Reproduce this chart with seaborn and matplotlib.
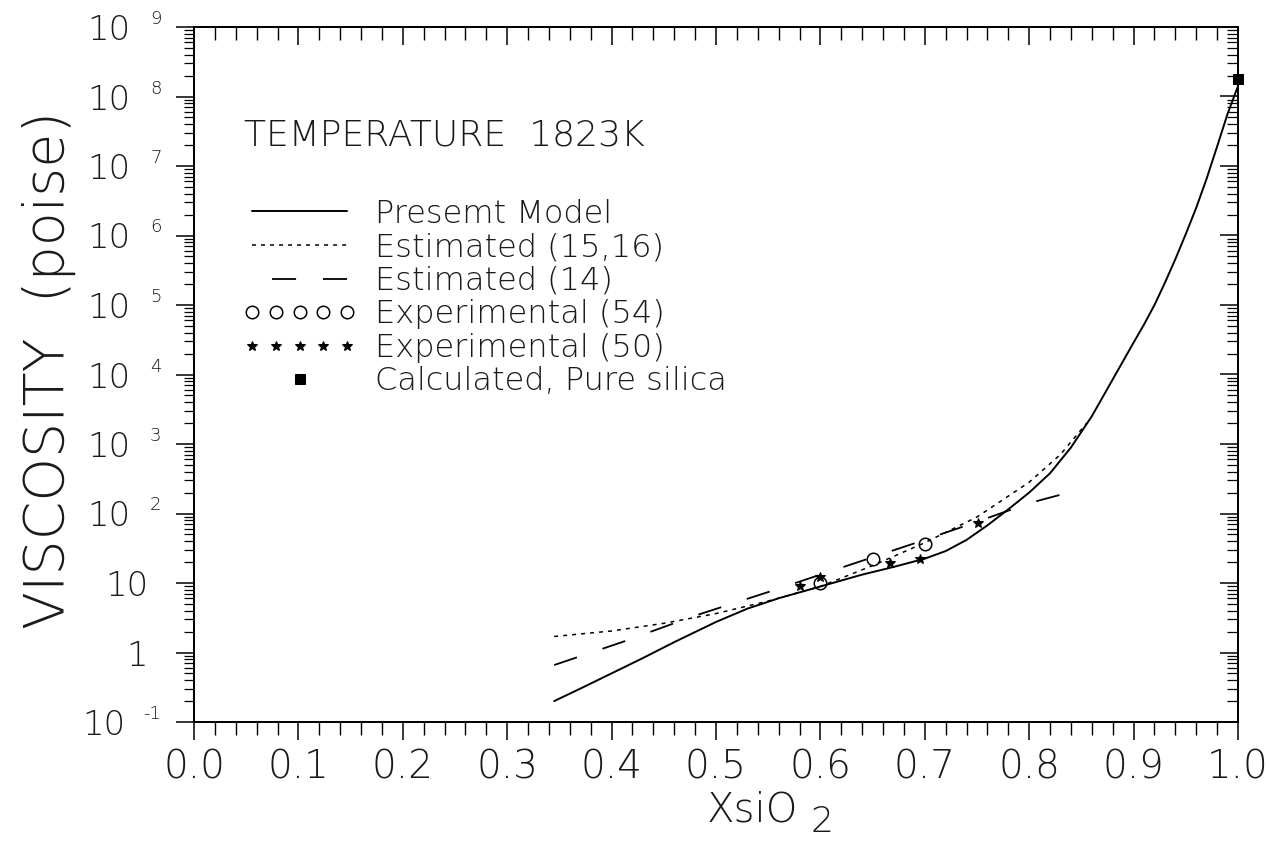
import numpy as np
import matplotlib
matplotlib.use("Agg")
import matplotlib.pyplot as plt
from matplotlib.legend_handler import HandlerLine2D
from matplotlib.ticker import FixedLocator, MultipleLocator, LogLocator, NullFormatter
from matplotlib.transforms import ScaledTranslation
import seaborn as sns

# ---- data: viscosity (poise) of CaO-SiO2 melts at 1823 K vs. mole fraction SiO2 ----
model_x = [0.345, 0.37, 0.40, 0.43, 0.46, 0.50, 0.53, 0.56, 0.60, 0.64, 0.67, 0.70,
           0.72, 0.74, 0.76, 0.78, 0.80, 0.82, 0.84, 0.86, 0.88, 0.90, 0.91, 0.92,
           0.93, 0.94, 0.95, 0.96, 0.97, 0.98, 0.99, 1.00]
model_eta = [0.200, 0.302, 0.501, 0.832, 1.41, 2.75, 4.27, 6.03, 8.91, 13.2, 17.0, 22.4,
             28.8, 41.7, 67.6, 115, 200, 380, 891, 2510, 8510, 28800, 52500, 1.0e5,
             2.09e5, 4.57e5, 1.05e6, 2.51e6, 6.61e6, 1.91e7, 5.62e7, 1.41e8]

est1516_x = [0.345, 0.40, 0.45, 0.50, 0.55, 0.60, 0.65, 0.70, 0.75, 0.80, 0.83, 0.855]
est1516_eta = [1.70, 2.04, 2.63, 3.63, 5.50, 8.91, 17.8, 38.0, 89.1, 282, 708, 1995]

est14_x = [0.345, 0.41, 0.48, 0.55, 0.62, 0.69, 0.75, 0.80, 0.845]
est14_eta = [0.66, 1.41, 3.39, 7.41, 16.6, 37.2, 75.9, 141, 214]

exp54_x = [0.60, 0.65, 0.70]
exp54_eta = [10.0, 22.4, 36.9]

exp50_x = [0.58, 0.60, 0.667, 0.695, 0.751]
exp50_eta = [9.0, 12.3, 19.1, 22.4, 72.0]

silica_x = [1.0]
silica_eta = [1.8e8]

x_ticks = [0.0, 0.1, 0.2, 0.3, 0.4, 0.5, 0.6, 0.7, 0.8, 0.9, 1.0]
x_tick_labels = ["0.0", "0.1", "0.2", "0.3", "0.4", "0.5", "0.6", "0.7", "0.8", "0.9", "1.0"]
decades = [-1, 0, 1, 2, 3, 4, 5, 6, 7, 8, 9]
decade_labels = ["10", "1", "10", "10", "10", "10", "10", "10", "10", "10", "10"]
decade_exponents = ["-1", "", "", "2", "3", "4", "5", "6", "7", "8", "9"]

legend_labels = ["Presemt Model", "Estimated (15,16)", "Estimated (14)",
                 "Experimental (54)", "Experimental (50)", "Calculated, Pure silica"]

# ---- style ----
sns.set_theme(style="ticks")
plt.rcParams["font.family"] = ["DejaVu Sans"]
plt.rcParams["font.weight"] = "light"
plt.rcParams["axes.labelweight"] = "light"
INK = "#1a1a1a"
plt.rcParams["text.color"] = INK
plt.rcParams["axes.labelcolor"] = INK
plt.rcParams["xtick.color"] = "black"
plt.rcParams["ytick.color"] = "black"
plt.rcParams["xtick.labelcolor"] = INK
plt.rcParams["ytick.labelcolor"] = INK
plt.rcParams["axes.edgecolor"] = "black"

W_PX, H_PX = 1271, 842
fig = plt.figure(figsize=(W_PX / 100, H_PX / 100), dpi=100)
left, right, top, bottom = 194, 1238, 27, 722
ax = fig.add_axes([left / W_PX, 1 - bottom / H_PX,
                   (right - left) / W_PX, (bottom - top) / H_PX])

DASH14 = (0, (13.3, 14.9))
# legend sample: leading gap, then two long dashes
DASH14_KEY = (0, (0.01, 11.1, 13.3, 14.9, 13.3, 50))

# ---- curves ----
sns.lineplot(x=model_x, y=model_eta, ax=ax, color="black", linewidth=1.4,
             legend=False, estimator=None, sort=False)
h_model = ax.lines[-1]

sns.lineplot(x=est1516_x, y=est1516_eta, ax=ax, color="black", linewidth=1.1,
             linestyle=(0, (2.6, 3.3)), legend=False, estimator=None, sort=False)
h_1516 = ax.lines[-1]

sns.lineplot(x=est14_x, y=est14_eta, ax=ax, color="black", linewidth=1.3,
             linestyle=DASH14, legend=False, estimator=None, sort=False)
h_14 = ax.lines[-1]

sns.lineplot(x=exp54_x, y=exp54_eta, ax=ax, color="black", linestyle="none",
             marker="o", markersize=9, markerfacecolor="none",
             markeredgecolor="black", markeredgewidth=1.1,
             legend=False, estimator=None, sort=False)
h_54 = ax.lines[-1]

sns.lineplot(x=exp50_x, y=exp50_eta, ax=ax, color="black", linestyle="none",
             marker="*", markersize=7.5, markerfacecolor="black",
             markeredgecolor="black", markeredgewidth=0.8,
             legend=False, estimator=None, sort=False)
h_50 = ax.lines[-1]

sns.lineplot(x=silica_x, y=silica_eta, ax=ax, color="black", linestyle="none",
             marker="s", markersize=7, markerfacecolor="black",
             markeredgecolor="black", clip_on=False,
             legend=False, estimator=None, sort=False)
h_sq = ax.lines[-1]

# ---- axes ----
ax.set_xlim(0.0, 1.0)
ax.set_yscale("log")
ax.set_ylim(0.1, 1e9)

ax.set_xticks(x_ticks, x_tick_labels)
ax.xaxis.set_minor_locator(MultipleLocator(0.02))
ax.set_yticks([10.0 ** d for d in decades], decade_labels)
ax.yaxis.set_minor_locator(LogLocator(base=10, subs=np.arange(2, 10) * 1.0, numticks=100))
ax.yaxis.set_minor_formatter(NullFormatter())

ax.tick_params(axis="x", which="major", direction="out", length=13, width=1.1,
               pad=6, labelsize=28)
ax.tick_params(axis="x", which="minor", direction="out", length=9, width=1.0)
ax.tick_params(axis="y", which="major", direction="out", length=13, width=1.1,
               pad=20, labelsize=24.5)
ax.tick_params(axis="y", which="minor", direction="out", length=7, width=0.9)
for sp in ax.spines.values():
    sp.set_linewidth(1.4)

# top axis: ticks pointing inward, no labels
ax_top = ax.twiny()
ax_top.set_xlim(0.0, 1.0)
ax_top.xaxis.set_major_locator(FixedLocator(x_ticks))
ax_top.xaxis.set_minor_locator(MultipleLocator(0.02))
ax_top.tick_params(axis="x", which="major", direction="in", length=13, width=1.1,
                   labeltop=False)
ax_top.tick_params(axis="x", which="minor", direction="in", length=9, width=1.0)

# right axis: ticks pointing inward, no labels
ax_right = ax.twinx()
ax_right.set_yscale("log")
ax_right.set_ylim(0.1, 1e9)
ax_right.yaxis.set_major_locator(FixedLocator([10.0 ** d for d in decades]))
ax_right.yaxis.set_minor_locator(LogLocator(base=10, subs=np.arange(2, 10) * 1.0, numticks=100))
ax_right.yaxis.set_minor_formatter(NullFormatter())
ax_right.tick_params(axis="y", which="major", direction="in", length=13, width=1.1,
                     labelright=False)
ax_right.tick_params(axis="y", which="minor", direction="in", length=8, width=0.9)
for a in (ax_top, ax_right):
    for sp in a.spines.values():
        sp.set_linewidth(1.4)

# power-of-ten labels: base "10" shifted left, small exponent set to its upper right
for lab, d, e in zip(ax.get_yticklabels(), decades, decade_exponents):
    if e:
        shift = -23 if d < 0 else -18
        lab.set_transform(lab.get_transform() +
                          ScaledTranslation(shift / 100, 0, fig.dpi_scale_trans))
        ax.annotate(e, xy=(0, 10.0 ** d), xycoords=ax.get_yaxis_transform(),
                    xytext=((-51 if d < 0 else -44) * 0.72, 8 * 0.72),
                    textcoords="offset points", ha="left", va="center",
                    fontsize=13, annotation_clip=False)

# axis titles
ax.set_ylabel("VISCOSITY  (poise)", fontsize=40)
ax.yaxis.set_label_coords(-0.113, 0.507)
ax.set_xlabel("XsiO", fontsize=29)
ax.xaxis.set_label_coords(0.535, -0.099)
ax.annotate("2", xy=(1, 0.5), xycoords=ax.xaxis.label, xytext=(8.6, -8.6),
            textcoords="offset points", ha="left", va="center", fontsize=26)

ax.text(0.048, 0.830, "TEMPERATURE  1823K", transform=ax.transAxes,
        fontsize=26, va="baseline", ha="left")


def _key_dashes(legend_line, orig_line):
    legend_line.update_from(orig_line)
    legend_line.set_linestyle(DASH14_KEY)


ax.legend(handles=[h_model, h_1516, h_14, h_54, h_50, h_sq], labels=legend_labels,
          loc="upper left", bbox_to_anchor=(0.046, 0.753), frameon=False,
          fontsize=23, handlelength=3.6, handletextpad=0.565, labelspacing=0.11,
          borderpad=0, borderaxespad=0, numpoints=5,
          handler_map={h_sq: HandlerLine2D(numpoints=1),
                       h_14: HandlerLine2D(update_func=_key_dashes)})

fig.savefig("out.png", dpi=100)
